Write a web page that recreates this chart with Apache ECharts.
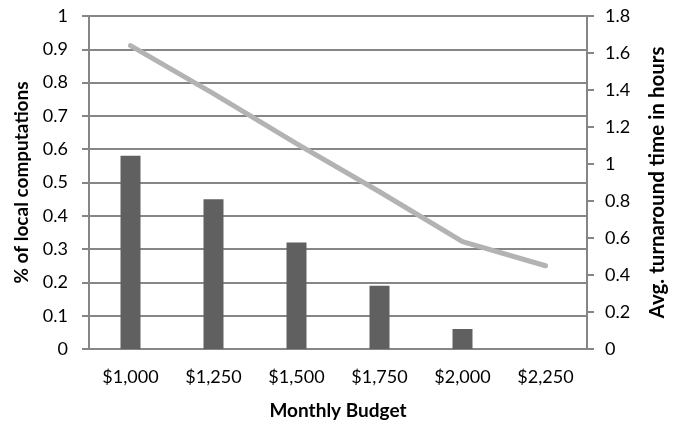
<!DOCTYPE html>
<html>
<head>
<meta charset="utf-8">
<script src="https://cdn.jsdelivr.net/npm/echarts@6/dist/echarts.min.js"></script>
<style>
  html, body { margin: 0; padding: 0; background: #fff; overflow: hidden; }
  #chart { width: 684px; height: 426px; }
</style>
</head>
<body>
<div id="chart"></div>
<script>
// Monthly budget levels
const budgets = ['$1,000', '$1,250', '$1,500', '$1,750', '$2,000', '$2,250'];
// Share of computations kept local (left axis)
const localShare = [0.58, 0.45, 0.32, 0.19, 0.06, 0];
// Average turnaround time in hours (right axis)
const turnaroundHours = [1.64, 1.38, 1.11, 0.85, 0.58, 0.45];

const axisGray = '#868686';
const fontFamily = 'Lato, "Open Sans", sans-serif';
const titleStyle = { fontFamily: fontFamily, fontWeight: 'bold', fontSize: 19, color: '#000' };
const tickFont = { fontFamily: fontFamily, fontSize: 18, color: '#000' };

const chart = echarts.init(document.getElementById('chart'), null, { renderer: 'canvas' });

chart.setOption({
  animation: false,
  backgroundColor: '#ffffff',
  textStyle: { fontFamily: fontFamily, color: '#000' },
  grid: { left: 89, right: 97, top: 16, bottom: 77, containLabel: false },
  xAxis: {
    type: 'category',
    data: budgets,
    boundaryGap: true,
    name: 'Monthly Budget',
    nameLocation: 'middle',
    nameGap: 52,
    nameTextStyle: titleStyle,
    axisLine: { lineStyle: { color: axisGray, width: 2 } },
    axisTick: { show: false },
    axisLabel: Object.assign({ margin: 19 }, tickFont),
    splitLine: { show: false }
  },
  yAxis: [
    {
      type: 'value',
      min: 0,
      max: 1,
      interval: 0.1,
      name: '% of local computations',
      nameLocation: 'middle',
      nameGap: 58,
      nameRotate: 90,
      nameTextStyle: titleStyle,
      axisLine: { show: true, lineStyle: { color: axisGray, width: 2 } },
      axisTick: { show: true, length: 7, lineStyle: { color: axisGray, width: 2 } },
      axisLabel: Object.assign({ margin: 21 }, tickFont),
      splitLine: { show: true, lineStyle: { color: axisGray, width: 2 } }
    },
    {
      type: 'value',
      min: 0,
      max: 1.8,
      interval: 0.2,
      position: 'right',
      name: 'Avg. turnaround time in hours',
      nameLocation: 'middle',
      nameGap: 60,
      nameRotate: 90,
      nameTextStyle: Object.assign({}, titleStyle, { fontSize: 20.5 }),
      axisLine: { show: true, lineStyle: { color: axisGray, width: 2 } },
      axisTick: { show: true, length: 7, lineStyle: { color: axisGray, width: 2 } },
      axisLabel: Object.assign({ margin: 18 }, tickFont),
      splitLine: { show: false }
    }
  ],
  series: [
    {
      type: 'bar',
      yAxisIndex: 0,
      data: localShare,
      barWidth: 20,
      itemStyle: { color: '#606060' }
    },
    {
      type: 'line',
      yAxisIndex: 1,
      data: turnaroundHours,
      symbol: 'none',
      lineStyle: { color: '#b3b3b3', width: 5, cap: 'round', join: 'round' },
      z: 3
    }
  ]
});
</script>
</body>
</html>
